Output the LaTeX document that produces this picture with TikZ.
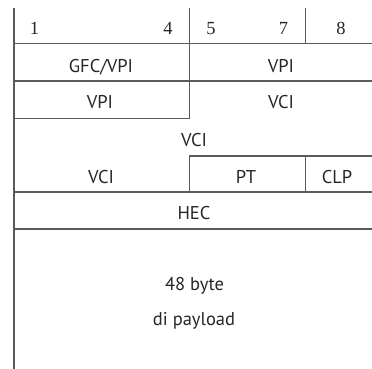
\documentclass[tikz,border=0pt]{standalone}
\usepackage{fontspec}
\setmainfont{PT Sans}
\newfontfamily\numfont{Liberation Serif}
\definecolor{linecol}{HTML}{5A5A5A}
\definecolor{textcol}{HTML}{262626}
\begin{document}
\begin{tikzpicture}[x=1pt,y=-1pt,
  rule/.style={draw=linecol,line width=1.1pt},
  lbl/.style={anchor=base,inner sep=0pt,text=textcol,font=\fontsize{18.5}{22}\selectfont},
  num/.style={anchor=base,inner sep=0pt,text=textcol,font=\numfont\fontsize{18.5}{22}\selectfont}]
\useasboundingbox (0,0) rectangle (372,369);
% lines
\draw[rule] (14,8) -- (14,369);
\draw[rule] (14,43.3) -- (372,43.3);
\draw[rule] (14,81) -- (372,81);
\draw[rule] (14,118.5) -- (189.3,118.5);
\draw[rule] (189.3,8) -- (189.3,118.5);
\draw[rule] (305.7,8) -- (305.7,43.3);
\draw[rule] (189.3,156) -- (372,156);
\draw[rule] (189.3,156) -- (189.3,192);
\draw[rule] (305.7,156) -- (305.7,192);
\draw[rule] (14,192) -- (372,192);
\draw[rule] (14,229) -- (372,229);
% header numbers
\node[num] (n1) at (34.5,35) {1};
\node[num] (n4) at (168,35) {4};
\node[num] (n5) at (211,35) {5};
\node[num] (n7) at (283.5,35) {7};
\node[num] (n8) at (341,35) {8};
% labels
\node[lbl] (gfc) at (101,72) {GFC/VPI};
\node[lbl] (vpi1) at (281,72) {VPI};
\node[lbl] (vpi2) at (100,108) {VPI};
\node[lbl] (vci1) at (281,108) {VCI};
\node[lbl] (vci2) at (194,146) {VCI};
\node[lbl] (vci3) at (101,183) {VCI};
\node[lbl] (pt) at (246,183) {PT};
\node[lbl] (clp) at (337,183) {CLP};
\node[lbl] (hec) at (194,219) {HEC};
\node[lbl] (pay1) at (194.5,290) {48 byte};
\node[lbl] (pay2) at (194,325) {di payload};
\end{tikzpicture}
\end{document}
